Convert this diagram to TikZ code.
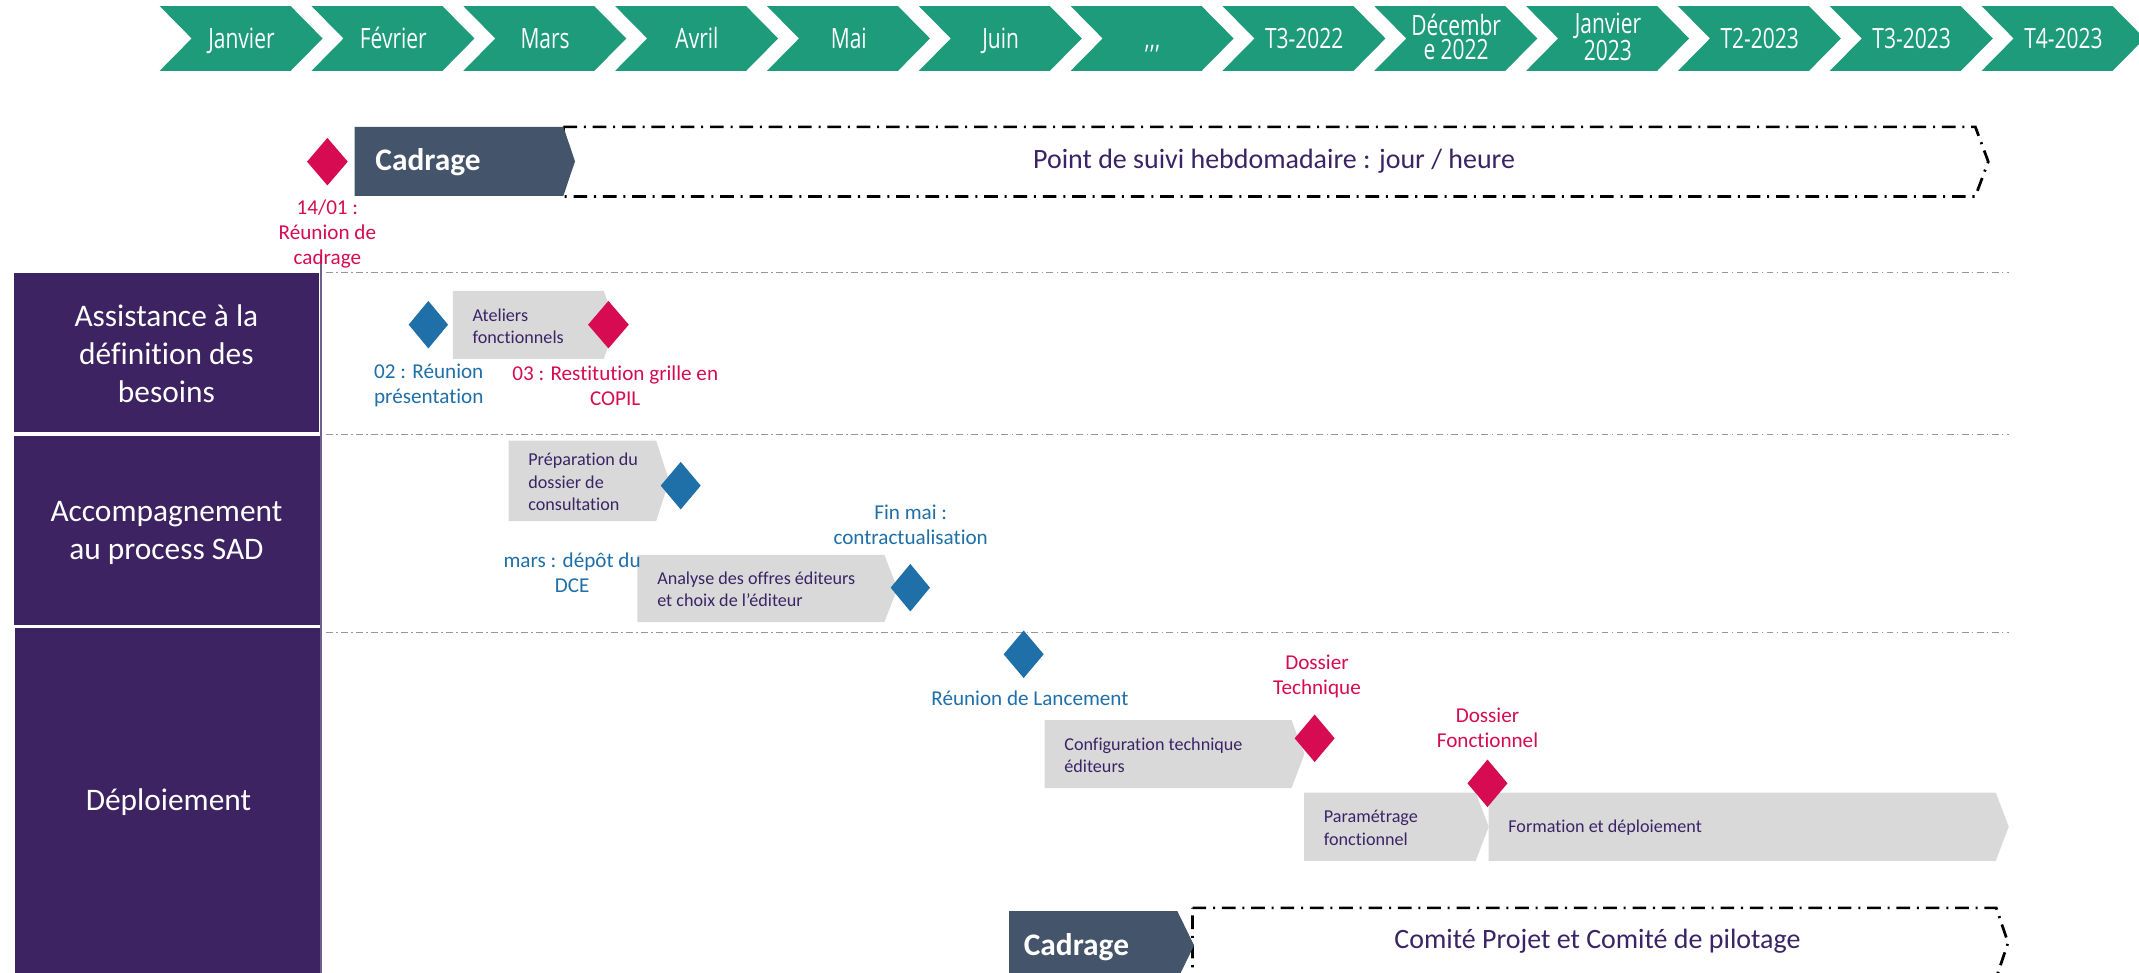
\documentclass[tikz,border=0pt]{standalone}
\usepackage{fontspec}
\setmainfont{Carlito}[Ligatures=NoCommon]
\newfontfamily\chevfont[FakeStretch=0.75]{Open Sans}
\usetikzlibrary{shapes.geometric}
\definecolor{chevgreen}{RGB}{30,155,122}
\definecolor{slate}{RGB}{68,84,106}
\definecolor{lanepurple}{RGB}{61,35,97}
\definecolor{lineedge}{RGB}{110,95,140}
\definecolor{txtpurple}{RGB}{58,36,102}
\definecolor{crimson}{RGB}{215,11,82}
\definecolor{msblue}{RGB}{31,111,168}
\definecolor{taskgray}{RGB}{217,217,217}
\definecolor{sepgray}{RGB}{150,150,150}
% #1 index, #2 name, #3 extra style, #4 y, #5 text
\newcommand{\monthchev}[5]{%
  \pgfmathsetmacro{\chevx}{117+111.3*#1}
  \fill[chevgreen] (\chevx,4.4) -- (\chevx+96,4.4) -- (\chevx+119.5,28.2) -- (\chevx+96,52) -- (\chevx,52) -- (\chevx+23.5,28.2) -- cycle;
  \node[chevtext,#3] (#2) at (\chevx+60,#4) {#5};
}
\newcommand{\taskbox}[6]{% name, x1, x2, ytop, ybot, text
  \fill[taskgray] (#2,#4) -- (#3,#4) -- (#3+9.5,{(#4+#5)/2}) -- (#3,#5) -- (#2,#5) -- cycle;
  \node[tasktext] (#1) at (#2+14.3,{(#4+#5)/2+0.8}) {#6};
}
\begin{document}
\begin{tikzpicture}[x=1pt,y=-1pt,
  chevtext/.style={text=white, font=\chevfont\fontsize{20.5}{17.8}\selectfont, align=center, inner sep=0pt},
  oneline/.style={text height=15pt, text depth=5pt},
  lanetext/.style={text=white, font=\fontsize{23}{28}\selectfont, align=center, inner sep=0pt},
  mslabel/.style={font=\fontsize{15.5}{18.3}\selectfont, align=center, inner sep=0pt},
  tasktext/.style={text=txtpurple, font=\fontsize{13.3}{16.3}\selectfont, align=left, anchor=west, inner sep=0pt},
  cadtext/.style={text=white, font=\bfseries\fontsize{23}{27}\selectfont, anchor=west, inner sep=0pt},
  bigtext/.style={text=txtpurple, font=\fontsize{20.5}{24}\selectfont, inner sep=0pt},
  dashbox/.style={draw=black, line width=2pt, dash pattern=on 10pt off 5pt on 1.5pt off 5pt},
  sepline/.style={draw=sepgray, line width=0.9pt, dash pattern=on 5pt off 2.5pt on 1pt off 2.5pt},
  milestone/.style={diamond, inner sep=0pt, minimum width=29.5pt, minimum height=35pt},
]
\useasboundingbox (0,0) rectangle (1568,713);
\fill[white] (0,0) rectangle (1568,713);

% month chevrons
\monthchev{0}{m1}{oneline}{30.8}{Janvier}
\monthchev{1}{m2}{oneline}{30.8}{Février}
\monthchev{2}{m3}{oneline}{30.8}{Mars}
\monthchev{3}{m4}{oneline}{30.8}{Avril}
\monthchev{4}{m5}{oneline}{30.8}{Mai}
\monthchev{5}{m6}{oneline}{30.8}{Juin}
\monthchev{6}{m7}{oneline}{30.8}{,,,}
\monthchev{7}{m8}{oneline}{30.8}{T3-2022}
\monthchev{8}{m9}{}{26.8}{Décembr\\e 2022}
\monthchev{9}{m10}{}{26.8}{Janvier\\2023}
\monthchev{10}{m11}{oneline}{30.8}{T2-2023}
\monthchev{11}{m12}{oneline}{30.8}{T3-2023}
\monthchev{12}{m13}{oneline}{30.8}{T4-2023}

% lane separators
\draw[sepline] (239,200) -- (1473,200);
\draw[sepline] (239,318.5) -- (1473,318.5);
\draw[sepline] (239,463.5) -- (1473,463.5);

% lane boxes
\fill[lanepurple] (10,200) rectangle (234,317);
\fill[lanepurple] (10.3,319.6) rectangle (235,458);
\fill[lanepurple] (11.3,460.5) rectangle (236,713);
\draw[draw=lineedge, line width=1pt] (235.3,188) -- (235.3,713);
\node[lanetext] (lane1) at (122,259.5) {Assistance à la\\définition des\\besoins};
\node[lanetext] (lane2) at (122,390.5) {Accompagnement\\au process SAD};
\node[lanetext] (lane3) at (123.5,588) {Déploiement};

% top cadrage and weekly follow-up
\draw[dashbox] (413,93) -- (1448,93) -- (1457.5,118.5) -- (1448,144) -- (413,144) -- cycle;
\fill[slate] (260,93) -- (413,93) -- (421.5,118.25) -- (413,143.5) -- (260,143.5) -- cycle;
\node[cadtext] (cad1) at (275,119) {Cadrage};
\node[bigtext] (suivi) at (934,118.5) {Point de suivi hebdomadaire : jour / heure};

% bottom cadrage and committees
\draw[dashbox] (874.2,665.5) -- (1463.3,665.5) -- (1472,691) -- (1463.3,717) -- (874.2,717) -- cycle;
\fill[slate] (739.8,667.8) -- (863,667.8) -- (875.3,693) -- (863,718.3) -- (739.8,718.3) -- cycle;
\node[cadtext] (cad2) at (750.3,694) {Cadrage};
\node[bigtext] (comite) at (1171,690) {Comité Projet et Comité de pilotage};

% tasks
\taskbox{t1}{332}{442.5}{213.3}{263}{Ateliers\\fonctionnels}
\taskbox{t2}{372.8}{481}{323}{382}{Préparation du\\dossier de\\consultation}
\taskbox{t3}{467.3}{648.3}{406.8}{456}{Analyse des offres éditeurs\\et choix de l’éditeur}
\taskbox{t4}{765.7}{946.7}{527.8}{577.8}{Configuration technique\\éditeurs}
\taskbox{t5}{956}{1081.8}{581}{631}{Paramétrage\\fonctionnel}
\taskbox{t6}{1091.2}{1463}{581}{631}{Formation et déploiement}

% milestones
\node[milestone, fill=crimson, minimum width=30pt] (dcad) at (240,118.5) {};
\node[milestone, fill=msblue, minimum width=29pt] (dreu) at (314,238) {};
\node[milestone, fill=crimson, minimum width=30pt] (dres) at (446,238) {};
\node[milestone, fill=msblue] (ddce) at (499,356) {};
\node[milestone, fill=msblue, minimum width=29pt] (dcon) at (667.3,430.8) {};
\node[milestone, fill=msblue] (dlan) at (750.4,479.6) {};
\node[milestone, fill=crimson] (dtech) at (963.7,541.2) {};
\node[milestone, fill=crimson] (dfonc) at (1090.4,574.2) {};

% milestone labels
\node[mslabel, text=crimson] (l1) at (240,171.5) {14/01 :\\Réunion de\\cadrage};
\node[mslabel, text=msblue] (l2) at (314.3,282.5) {02 : Réunion\\présentation};
\node[mslabel, text=crimson] (l3) at (451,282.5) {03 : Restitution grille en\\COPIL};
\node[mslabel, text=msblue] (l4) at (419.4,420) {mars : dépôt du\\DCE};
\node[mslabel, text=msblue] (l5) at (667.6,384.5) {Fin mai :\\contractualisation};
\node[mslabel, text=msblue] (l6) at (755,512) {Réunion de Lancement};
\node[mslabel, text=crimson] (l7) at (965.4,496) {Dossier\\Technique};
\node[mslabel, text=crimson] (l8) at (1090.4,533.5) {Dossier\\Fonctionnel};
\end{tikzpicture}
\end{document}
